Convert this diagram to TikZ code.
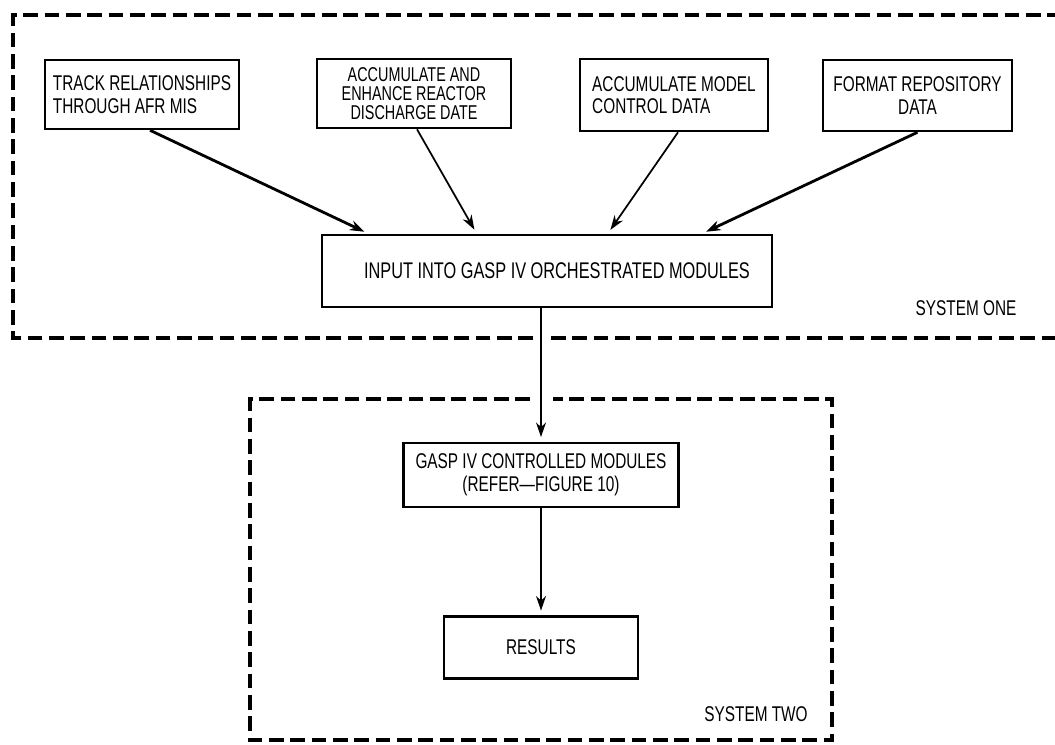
\documentclass[tikz,border=0pt]{standalone}
\usepackage{fontspec}
\setmainfont[FakeStretch=0.72]{Liberation Sans}
\usetikzlibrary{arrows.meta}
\begin{document}
\begin{tikzpicture}[x=0.75pt,y=-0.75pt,
  box/.style={draw, line width=1.9pt, inner sep=0pt, align=center,
    font=\fontsize{16}{17}\selectfont},
  sysline/.style={line width=3pt, dash pattern=on 11pt off 5pt},
  arr/.style={-{Stealth[length=11pt,width=7.5pt]}, line width=1.3pt, shorten >=3.5pt},
  lbl/.style={font=\fontsize{16}{17}\selectfont, inner sep=0pt}]
\useasboundingbox (0,0) rectangle (1055,744);
\fill[white] (0,0) rectangle (1055,744);

% system borders
\draw[sysline] (533,338) -- (13,338) -- (13,15) -- (1055,15);
\draw[sysline] (551,338) -- (1055,338);
\draw[sysline] (530,399) -- (250,399) -- (250,740) -- (832,740) -- (832,399) -- (553,399);

% boxes
\node[box, align=left, minimum width=194*0.75pt, minimum height=69*0.75pt] (b1) at (142,94.5)
  {TRACK RELATIONSHIPS\\THROUGH AFR MIS};
\node[box, minimum width=194*0.75pt, minimum height=69*0.75pt,
  font=\fontsize{15}{14.2}\selectfont] (b2) at (414,93.5)
  {ACCUMULATE AND\\ENHANCE REACTOR\\DISCHARGE DATE};
\node[box, align=left, minimum width=188*0.75pt, minimum height=72*0.75pt] (b3) at (674,95)
  {ACCUMULATE MODEL\\CONTROL DATA};
\node[box, minimum width=189*0.75pt, minimum height=71*0.75pt] (b4) at (917.5,95.5)
  {FORMAT REPOSITORY\\DATA};
\node[box, minimum width=450*0.75pt, minimum height=72*0.75pt,
  font=\fontsize{17}{18}\selectfont] (in) at (547,271)
  {\hspace*{15pt}INPUT INTO GASP IV ORCHESTRATED MODULES};
\node[box, minimum width=275*0.75pt, minimum height=64*0.75pt] (g) at (541,475)
  {GASP IV CONTROLLED MODULES\\(REFER—FIGURE 10)};
\node[box, minimum width=194*0.75pt, minimum height=62*0.75pt] (r) at (541,647.5)
  {RESULTS};

% labels
\node[lbl] (s1) at (966,308) {SYSTEM ONE};
\node[lbl] (s2) at (756,714) {SYSTEM TWO};

% connectors
\draw[arr, line width=2.1pt] ([xshift=8*0.75pt]b1.south) -- ([xshift=48*0.75pt]in.north west);
\draw[arr] ([xshift=3*0.75pt]b2.south) -- ([xshift=156*0.75pt]in.north west);
\draw[arr] ([xshift=4*0.75pt]b3.south) -- ([xshift=287*0.75pt]in.north west);
\draw[arr, line width=2.1pt] (b4.south) -- ([xshift=381*0.75pt]in.north west);
\draw[arr] (in.south -| g.north) -- (g.north);
\draw[arr] (g.south) -- (r.north);
\end{tikzpicture}
\end{document}
